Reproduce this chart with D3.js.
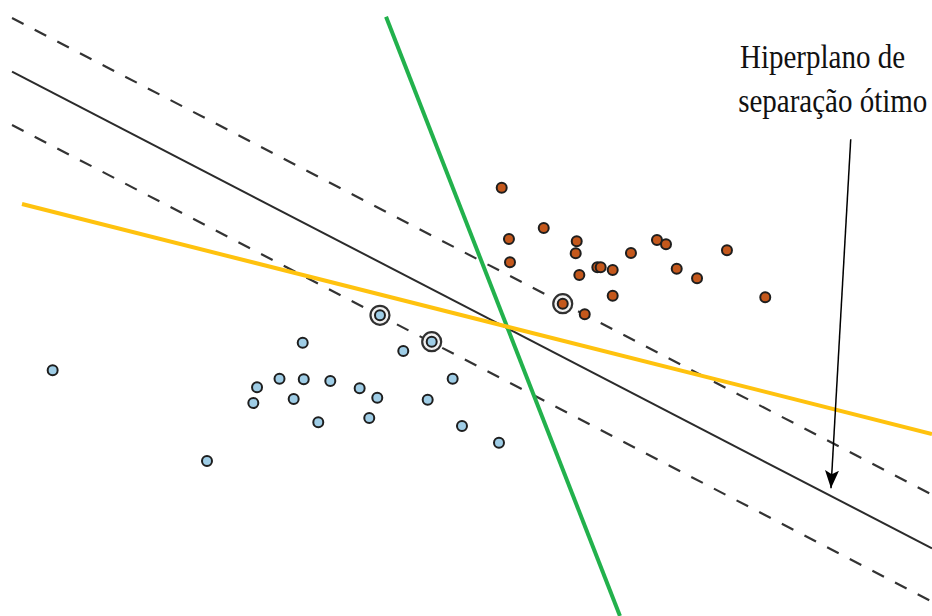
<!DOCTYPE html>
<html>
<head>
<meta charset="utf-8">
<script src="https://cdn.jsdelivr.net/npm/d3@7"></script>
<style>
  html, body { margin: 0; padding: 0; background: #ffffff; }
  svg { display: block; }
</style>
</head>
<body>
<svg id="chart" width="932" height="616"></svg>
<script>
// ---------------- data (feature space units) ----------------
// class +1 (orange)
const classAx = [53.83, 58.34, 54.61, 61.88, 61.77, 54.72, 67.70, 70.49, 71.46, 78.00,
                 62.16, 64.09, 64.45, 65.74, 72.61, 74.79, 65.74, 82.11, 60.38, 62.74];
const classAy = [45.89, 41.57, 40.39, 40.15, 38.86, 37.90, 38.89, 40.29, 39.83, 39.18,
                 36.54, 37.36, 37.36, 37.07, 37.21, 36.18, 34.32, 34.15, 33.46, 32.33];
// class -1 (blue)
const classBx = [5.65, 27.58, 27.18, 22.21, 29.99, 40.77, 46.32, 32.48, 43.27, 32.59,
                 35.44, 38.59, 40.48, 31.51, 48.57, 45.89, 34.15, 39.62, 49.57, 53.54];
const classBy = [26.33, 24.50, 22.82, 16.61, 25.43, 32.22, 29.39, 29.28, 28.39, 25.36,
                 25.18, 24.40, 23.39, 23.25, 25.43, 23.18, 20.75, 21.21, 20.36, 18.57];
// support vectors: indices into the class arrays
const supportA = [18];
const supportB = [5, 6];

// lines: [x0, y0, x1, y1] in feature space
const optimalHyperplane = [1.29, 58.32, 100, 7.25];
const marginUpper       = [1.29, 64.07, 100, 13.00];
const marginLower       = [1.29, 52.61, 100, 1.54];
const greenSeparator    = [41.42, 64.21, 66.52, 0];
const yellowSeparator   = [2.36, 44.14, 100, 19.50];

// annotation
const labelLines = ["Hiperplano de", "separação ótimo"];
const arrowLine = [91.28, 51.08, 89.16, 13.68];

// ---------------- drawing ----------------
const W = 932, H = 616;
const svg = d3.select("#chart");
const x = d3.scaleLinear().domain([0, 100]).range([0, W]);
const y = d3.scaleLinear().domain([0, 66]).range([H, 0]);

const defs = svg.append("defs");
defs.append("marker")
  .attr("id", "arrowHead")
  .attr("viewBox", "0 0 18 14")
  .attr("refX", 18).attr("refY", 7)
  .attr("markerWidth", 18).attr("markerHeight", 14)
  .attr("markerUnits", "userSpaceOnUse")
  .attr("orient", "auto")
  .append("path")
  .attr("d", "M0,0 L18,7 L0,14 L4,7 Z")
  .attr("fill", "#000");

function drawLine(l, opts) {
  const p = svg.append("line")
    .attr("x1", x(l[0])).attr("y1", y(l[1]))
    .attr("x2", x(l[2])).attr("y2", y(l[3]))
    .attr("stroke", opts.color)
    .attr("stroke-width", opts.width)
    .attr("stroke-linecap", opts.cap || "butt");
  if (opts.dash) p.attr("stroke-dasharray", opts.dash);
  return p;
}

// margins and optimal hyperplane
drawLine(marginUpper, {color: "#333", width: 2.2, dash: "13,12.5"});
drawLine(marginLower, {color: "#333", width: 2.2, dash: "13,12.5"});
drawLine(optimalHyperplane, {color: "#2b2b2b", width: 2});

const ptsA = classAx.map((v, i) => ({x: v, y: classAy[i], sv: supportA.includes(i)}));
const ptsB = classBx.map((v, i) => ({x: v, y: classBy[i], sv: supportB.includes(i)}));

// support vector rings
svg.append("g").selectAll("circle")
  .data(ptsA.filter(d => d.sv).concat(ptsB.filter(d => d.sv)))
  .join("circle")
  .attr("cx", d => x(d.x)).attr("cy", d => y(d.y))
  .attr("r", 9.5)
  .attr("fill", "#f2f2f2")
  .attr("stroke", "#303030")
  .attr("stroke-width", 2.2);

// points
svg.append("g").selectAll("circle")
  .data(ptsA).join("circle")
  .attr("cx", d => x(d.x)).attr("cy", d => y(d.y))
  .attr("r", 5)
  .attr("fill", "#c4581c")
  .attr("stroke", "#1e1e1e")
  .attr("stroke-width", 2);

svg.append("g").selectAll("circle")
  .data(ptsB).join("circle")
  .attr("cx", d => x(d.x)).attr("cy", d => y(d.y))
  .attr("r", 5)
  .attr("fill", "#9fcde6")
  .attr("stroke", "#1e1e1e")
  .attr("stroke-width", 2);

// alternative separators
drawLine(greenSeparator, {color: "#22b14c", width: 4});
drawLine(yellowSeparator, {color: "#ffc20e", width: 4});

// annotation arrow
drawLine(arrowLine, {color: "#000", width: 1.5}).attr("marker-end", "url(#arrowHead)");

// label (tall, condensed serif as in the reference)
const labelX = [79.4, 79.2];
const labelY = [58.74, 54.03];
svg.append("g").selectAll("text")
  .data(labelLines).join("text")
  .attr("transform", (d, i) => `translate(${x(labelX[i])},${y(labelY[i])}) scale(1,1.13)`)
  .attr("font-family", "'Liberation Serif', 'Times New Roman', serif")
  .attr("font-size", 29)
  .attr("fill", "#111")
  .text(d => d);
</script>
</body>
</html>
